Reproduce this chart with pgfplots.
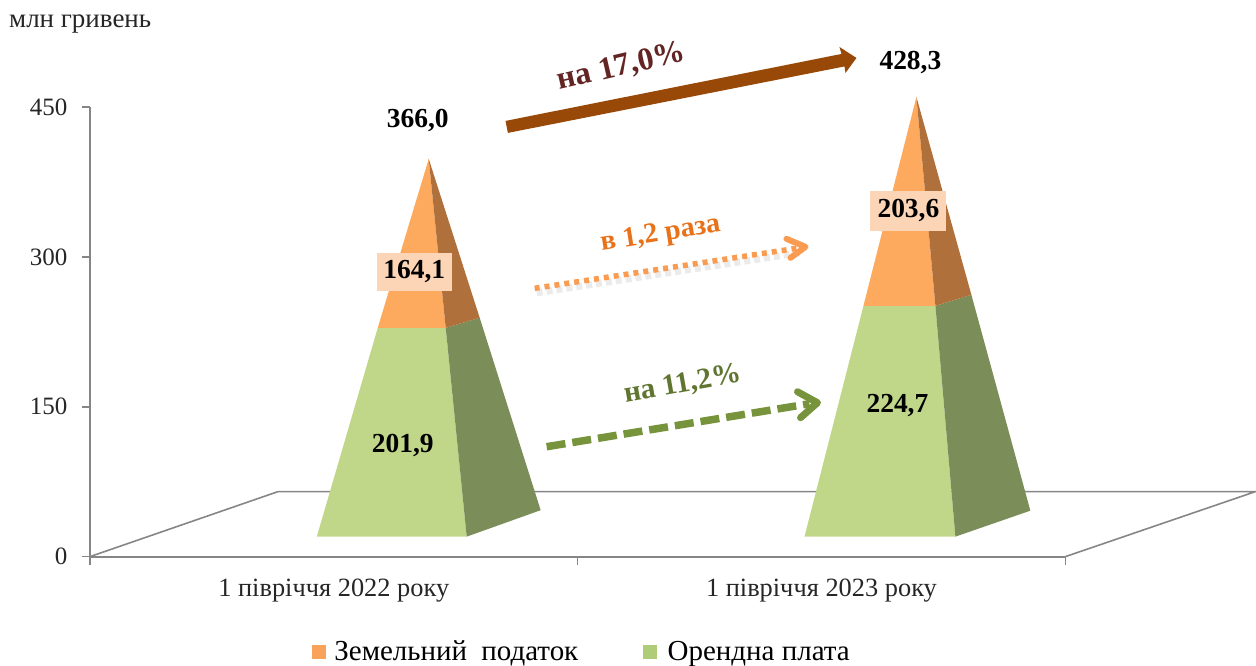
\documentclass[border=0pt]{standalone}
\usepackage{fontspec}
\setmainfont{Liberation Serif}
\usepackage{pgfplots}
\pgfplotsset{compat=1.18}
\definecolor{axgray}{HTML}{868686}
\definecolor{grfront}{HTML}{C0D78A}
\definecolor{grside}{HTML}{7B8E59}
\definecolor{orfront}{HTML}{FDAA5E}
\definecolor{orside}{HTML}{B0703C}
\definecolor{lblbox}{HTML}{FBD5B5}
\definecolor{brownarr}{HTML}{984807}
\definecolor{browntxt}{HTML}{632523}
\definecolor{orarr}{HTML}{F99B50}
\definecolor{ortxt}{HTML}{E8721A}
\definecolor{grarr}{HTML}{77933C}
\definecolor{grtxt}{HTML}{5F7530}
\definecolor{legor}{HTML}{F9A25A}
\definecolor{leggr}{HTML}{AFCD78}
\begin{document}
\begin{tikzpicture}[x=1pt,y=1pt]
\begin{axis}[
  scale only axis, width=976pt, height=450pt,
  xmin=90, xmax=1066, ymin=0, ymax=450,
  clip=false,
  axis lines=left,
  axis line style={-, draw=axgray, line width=2pt},
  tick align=outside, tick pos=left,
  ytick={0,150,300,450},
  xtick={334,822},
  xticklabels={1 півріччя 2022 року, 1 півріччя 2023 року},
  minor xtick={90,578,1066},
  major tick length=8pt,
  minor tick length=8pt,
  major x tick style={draw=none},
  minor x tick style={draw=axgray, line width=1.6pt},
  ytick style={draw=axgray, line width=1.6pt},
  /pgf/number format/assume math mode=true,
  tick label style={font=\fontsize{25}{28}\selectfont, text=black!85},
  xticklabel style={yshift=-11pt, font=\fontsize{26.4}{28}\selectfont},
  yticklabel style={xshift=-11pt},
  legend style={at={(axis cs:312,-95)}, anchor=west, draw=none, fill=none,
    legend columns=2, font=\fontsize{29}{32}\selectfont,
    /tikz/every even column/.append style={column sep=62pt},
    inner sep=0pt, nodes={inner xsep=3pt}},
  legend cell align=left,
]
% bounding box of the whole picture
\path (axis cs:0,-109) rectangle (axis cs:1256,557);
% legend
\addlegendimage{legend image code/.code={\fill[legor] (0pt,-6.5pt) rectangle (13pt,6.5pt); \draw[opacity=0] (0pt,0pt) -- (19pt,0pt);}}
\addlegendentry{Земельний\hspace{7pt} податок}
\addlegendimage{legend image code/.code={\fill[leggr] (0pt,-6.5pt) rectangle (13pt,6.5pt); \draw[opacity=0] (0pt,0pt) -- (21pt,0pt);}}
\addlegendentry{Орендна плата}
% floor
\addplot[draw=axgray, line width=1.6pt, forget plot] coordinates {(90,0) (278,65) (1256,65) (1066,0)};
% pyramid 1
\addplot[fill=grfront, draw=none, forget plot] coordinates {(317,20) (467,20) (446,229) (378,229)} -- cycle;
\addplot[fill=grside, draw=none, forget plot] coordinates {(467,20) (541,46.5) (480,239) (446,229)} -- cycle;
\addplot[fill=orfront, draw=none, forget plot] coordinates {(378,229) (446,229) (429,398)} -- cycle;
\addplot[fill=orside, draw=none, forget plot] coordinates {(446,229) (480,239) (429,398)} -- cycle;
% pyramid 2
\addplot[fill=grfront, draw=none, forget plot] coordinates {(805,20) (956,20) (936,251) (864,251)} -- cycle;
\addplot[fill=grside, draw=none, forget plot] coordinates {(956,20) (1031,46) (972,262) (936,251)} -- cycle;
\addplot[fill=orfront, draw=none, forget plot] coordinates {(864,251) (936,251) (917,460)} -- cycle;
\addplot[fill=orside, draw=none, forget plot] coordinates {(936,251) (972,262) (917,460)} -- cycle;
% brown arrow
\addplot[fill=brownarr, draw=none, forget plot] coordinates {(505.8,436) (842,503) (840,510) (857,499) (846,484) (845,490.5) (508.2,424)} -- cycle;
% dotted orange arrow
\addplot[draw=black, opacity=0.08, line width=7pt, forget plot, dash pattern=on 6pt off 4pt] coordinates {(537,264) (800,304)};
\addplot[draw=orarr, line width=5.5pt, dash pattern=on 5pt off 5pt, forget plot] coordinates {(535,268.5) (800,309)};
\addplot[draw=orarr, line width=6pt, line cap=round, line join=round, forget plot] coordinates {(787,318) (806,310) (791,299)};
% dashed green arrow
\addplot[draw=grarr, line width=7.5pt, dash pattern=on 19pt off 7pt, forget plot] coordinates {(547,110) (810,153)};
\addplot[draw=grarr, line width=7pt, line cap=round, line join=round, forget plot] coordinates {(798,165) (818,154) (801,139)};
% texts
\node[font=\fontsize{32}{34}\selectfont\bfseries, text=browntxt, rotate=13] at (axis cs:622,490) {на 17,0\%};
\node[font=\fontsize{28.5}{30}\selectfont\bfseries, text=ortxt, rotate=9] at (axis cs:661,322) {в 1,2 раза};
\node[font=\fontsize{29.5}{31}\selectfont\bfseries, text=grtxt, rotate=10] at (axis cs:683,172) {на 11,2\%};
\node[font=\fontsize{27.5}{30}\selectfont\bfseries] at (axis cs:418,436) {366,0};
\node[font=\fontsize{27.5}{30}\selectfont\bfseries] at (axis cs:911,494) {428,3};
\node[font=\fontsize{27.5}{30}\selectfont\bfseries, fill=lblbox, inner sep=0pt, minimum width=75pt, minimum height=38pt] at (axis cs:414.5,285) {164,1};
\node[font=\fontsize{27.5}{30}\selectfont\bfseries, fill=lblbox, inner sep=0pt, minimum width=76pt, minimum height=40pt] at (axis cs:909,346) {203,6};
\node[font=\fontsize{27.5}{30}\selectfont\bfseries] at (axis cs:403,111) {201,9};
\node[font=\fontsize{27.5}{30}\selectfont\bfseries] at (axis cs:898,151) {224,7};
\node[font=\fontsize{27}{30}\selectfont, anchor=west, inner sep=0pt, text=black!85] at (axis cs:9,533) {млн гривень};
\end{axis}
\end{tikzpicture}
\end{document}
